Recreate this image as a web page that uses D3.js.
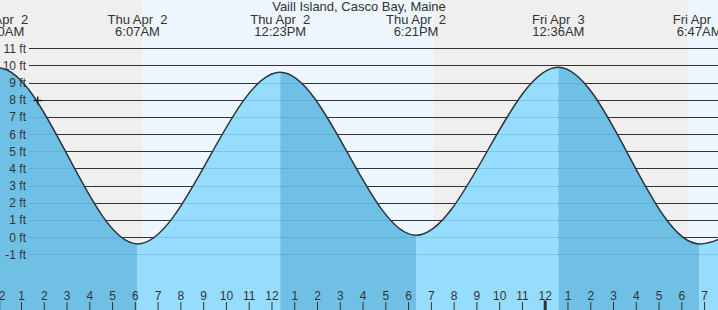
<!DOCTYPE html>
<html>
<head>
<meta charset="utf-8">
<script src="https://cdn.jsdelivr.net/npm/d3@7"></script>
<style>
  body { margin: 0; background: #fff; }
  svg { display: block; font-family: "Liberation Sans", Arial, sans-serif; }
  text { fill: #333; font-size: 12px; }
  .big { font-size: 13px; }
</style>
</head>
<body>
<svg width="718" height="310"></svg>
<script>
var title = "Vaill Island, Casco Bay, Maine";

// tide extremes (local time) and heights in ft
var tideTimes = ["2026-04-01T17:50", "2026-04-02T00:00", "2026-04-02T06:07",
                 "2026-04-02T12:23", "2026-04-02T18:21", "2026-04-03T00:36",
                 "2026-04-03T06:47", "2026-04-03T13:00"];
var tideHeights = [0.2, 9.85, -0.4, 9.6, 0.1, 9.9, -0.4, 9.4];
var tideLabeled = [false, true, true, true, true, true, true, false];

// daylight spans
var sunrise = ["2026-04-02T06:19", "2026-04-03T06:17"];
var sunset = ["2026-04-02T19:08", "2026-04-03T19:09"];

var feetTicks = [-1, 0, 1, 2, 3, 4, 5, 6, 7, 8, 9, 10, 11];
var nowTime = "2026-04-02T01:44";
var nowHeight = 8;

var parse = d3.timeParse("%Y-%m-%dT%H:%M");
var tides = tideTimes.map(function(t, i) {
  return { date: parse(t), ft: tideHeights[i], label: tideLabeled[i] };
});
var days = sunrise.map(function(t, i) { return [parse(t), parse(sunset[i])]; });

var W = 718, H = 310;
var svg = d3.select("svg");

var x = d3.scaleTime()
  .domain([parse("2026-04-02T00:00"), parse("2026-04-03T08:00")])
  .range([-1.77, -1.77 + 32 * 22.77]);

var y = d3.scaleLinear()
  .domain([-1, 11])
  .range([254.2, 48.3]);

// background: night grey, day light blue
svg.append("rect").attr("width", W).attr("height", H).attr("fill", "#efefef");
svg.append("g").selectAll("rect")
  .data(days)
  .enter().append("rect")
  .attr("x", function(d) { return x(d[0]); })
  .attr("width", function(d) { return x(d[1]) - x(d[0]); })
  .attr("y", 0).attr("height", H)
  .attr("fill", "#eef7ff");

// dark grid lines
svg.append("g").selectAll("line")
  .data(feetTicks)
  .enter().append("line")
  .attr("x1", 29).attr("x2", W)
  .attr("y1", function(d) { return Math.round(y(d)) + 0.5; })
  .attr("y2", function(d) { return Math.round(y(d)) + 0.5; })
  .attr("stroke", "#333");

// water
var area = d3.area()
  .x(function(d) { return x(d.date); })
  .y0(H)
  .y1(function(d) { return y(d.ft); })
  .curve(d3.curveMonotoneX);
var line = d3.line()
  .x(function(d) { return x(d.date); })
  .y(function(d) { return y(d.ft); })
  .curve(d3.curveMonotoneX);

svg.append("clipPath").attr("id", "water")
  .append("path").attr("d", area(tides));

var water = svg.append("g").attr("clip-path", "url(#water)");
water.selectAll("rect")
  .data(d3.range(tides.length - 1))
  .enter().append("rect")
  .attr("x", function(i) { return x(tides[i].date); })
  .attr("width", function(i) { return x(tides[i + 1].date) - x(tides[i].date); })
  .attr("y", 0).attr("height", H)
  .attr("fill", function(i) { return tides[i].ft > tides[i + 1].ft ? "#70c0e6" : "#96dcfc"; });
water.selectAll("line")
  .data(feetTicks)
  .enter().append("line")
  .attr("x1", 29).attr("x2", W)
  .attr("y1", function(d) { return Math.round(y(d)) + 0.5; })
  .attr("y2", function(d) { return Math.round(y(d)) + 0.5; })
  .attr("stroke", "rgba(30,120,180,0.22)");

svg.append("path")
  .attr("d", line(tides))
  .attr("fill", "none")
  .attr("stroke", "#333")
  .attr("stroke-width", 1.5);

// y labels
svg.append("g").selectAll("text")
  .data(feetTicks)
  .enter().append("text")
  .attr("x", 26)
  .attr("y", function(d) { return y(d) + 4.5; })
  .attr("text-anchor", "end")
  .text(function(d) { return d + " ft"; });

// hour axis
var hourAxis = d3.axisTop(x)
  .ticks(d3.timeHour.every(1))
  .tickFormat(d3.timeFormat("%-I"))
  .tickSize(8)
  .tickPadding(2);
var gx = svg.append("g")
  .attr("transform", "translate(0," + H + ")")
  .call(hourAxis);
gx.select(".domain").remove();
gx.selectAll("text").attr("fill", "#333").style("font-size", "12px")
  .style("font-family", "'Liberation Sans', Arial, sans-serif");
gx.selectAll(".tick line").attr("stroke", "#333")
  .attr("stroke-width", function(d) { return d.getHours() === 0 ? 3 : 1; })
  .attr("y2", function(d) { return d.getHours() === 0 ? -9.5 : -8; });

// tide labels
var fmtDay = d3.timeFormat("%a %b %e");
var fmtTime = d3.timeFormat("%-I:%M%p");
var lab = svg.append("g").selectAll("text")
  .data(tides.filter(function(d) { return d.label; }))
  .enter().append("text")
  .attr("class", "big")
  .attr("text-anchor", "middle")
  .style("white-space", "pre");
lab.append("tspan")
  .attr("x", function(d) { return x(d.date); })
  .attr("y", 24)
  .text(function(d) { return fmtDay(d.date); });
lab.append("tspan")
  .attr("x", function(d) { return x(d.date); })
  .attr("y", 36)
  .text(function(d) { return fmtTime(d.date); });

svg.append("text")
  .attr("class", "big")
  .attr("x", W / 2).attr("y", 11)
  .attr("text-anchor", "middle")
  .text(title);

// current time marker
var nx = x(parse(nowTime)), ny = Math.round(y(nowHeight)) + 0.5;
svg.append("path")
  .attr("d", "M" + (nx - 4) + "," + ny + "H" + (nx + 4) + "M" + nx + "," + (ny - 4) + "V" + (ny + 4))
  .attr("stroke", "#222")
  .attr("stroke-width", 1.5);
</script>
</body>
</html>
